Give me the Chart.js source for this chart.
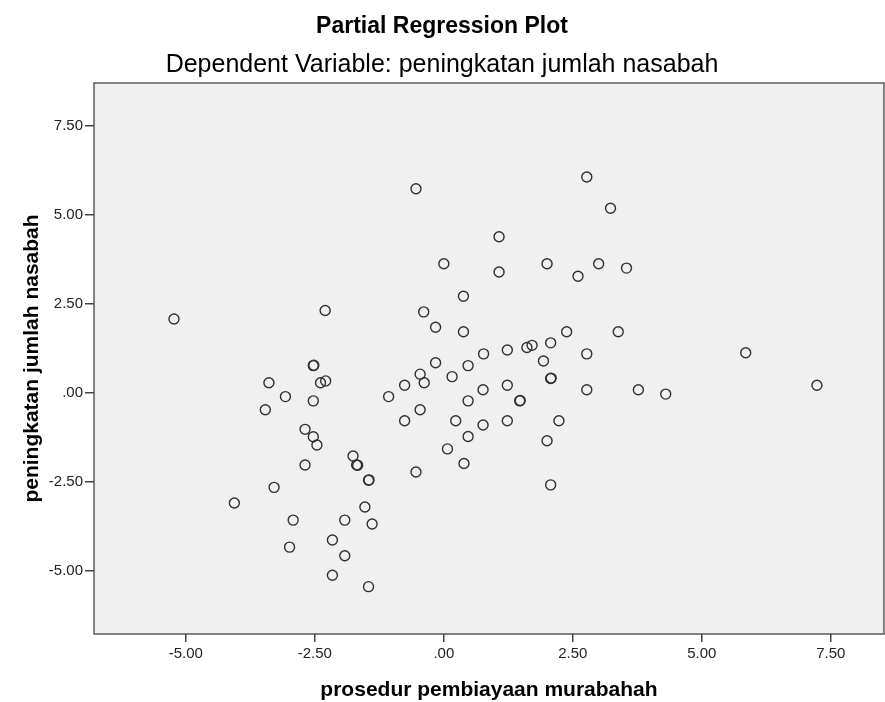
<!DOCTYPE html>
<html>
<head>
<meta charset="UTF-8">
<title>Partial Regression Plot</title>
<script src="https://cdn.jsdelivr.net/npm/chart.js@4.4.1/dist/chart.umd.min.js"></script>
<style>
  html, body { margin: 0; padding: 0; background: #fff; }
</style>
</head>
<body>
<canvas id="myChart" width="885" height="702"></canvas>
<script>
// residuals
var xValues = [-5.23, -2.30, -2.53, -2.52, -3.39, -2.39, -2.29, -3.07, -2.53, -3.46,
               -2.69, -2.53, -2.46, -1.76, -1.69, -1.67, -1.46, -1.45, -2.69, -3.29,
               -4.06, -2.92, -1.92, -1.53, -1.39, -2.16, -2.99, -1.92, -2.16, -1.46,
               -0.16, 0.47, 1.93, -0.46, -0.76, -0.38, 0.16, 2.07, 2.08, -1.07,
               0.76, 1.23, 2.77, 0.47, 1.47, 1.48, -0.46, -0.76, 0.23, 0.76,
               1.23, 2.23, 0.47, 0.07, 2.00, 0.39, -0.54, 2.07, 2.77, -0.54,
               3.23, 1.07, 0.00, 1.07, 2.00, 2.60, 3.00, 3.54, 0.38, -0.39,
               -0.16, 0.38, 2.38, 3.38, 0.77, 1.23, 1.61, 1.71, 2.07, 2.77,
               5.85, 3.77, 4.30, 7.23];
var yValues = [2.08, 2.32, 0.77, 0.78, 0.29, 0.29, 0.34, -0.10, -0.22, -0.47,
               -1.02, -1.23, -1.46, -1.77, -2.02, -2.03, -2.45, -2.44, -2.02, -2.65,
               -3.09, -3.57, -3.57, -3.20, -3.68, -4.13, -4.33, -4.57, -5.12, -5.44,
               0.85, 0.77, 0.90, 0.53, 0.22, 0.29, 0.46, 0.41, 0.42, -0.10,
               0.09, 0.22, 0.09, -0.22, -0.22, -0.21, -0.47, -0.78, -0.78, -0.90,
               -0.78, -0.78, -1.22, -1.57, -1.34, -1.98, -2.22, -2.58, 6.07, 5.74,
               5.19, 4.39, 3.63, 3.40, 3.63, 3.28, 3.63, 3.51, 2.72, 2.28,
               1.85, 1.72, 1.72, 1.72, 1.10, 1.21, 1.28, 1.34, 1.41, 1.10,
               1.13, 0.09, -0.03, 0.22];
var tickValues = [-5, -2.5, 0, 2.5, 5, 7.5];
var tickLabels = ['-5.00', '-2.50', '.00', '2.50', '5.00', '7.50'];

var xRange = [-6.78, 8.53];
var yRange = [-6.77, 8.71];

var mainFont = "'Liberation Sans', Arial, sans-serif";

var points = [];
for (var i = 0; i < xValues.length; i++) {
	points.push({x: xValues[i], y: yValues[i]});
}

// grey plot area with a dark frame, like SPSS
var plotFrame = {
	id: 'plotFrame',
	beforeDatasetsDraw: function(chart) {
		var a = chart.chartArea, ctx = chart.ctx;
		ctx.save();
		ctx.fillStyle = '#f0f0f0';
		ctx.fillRect(a.left, a.top, a.right - a.left, a.bottom - a.top);
		ctx.restore();
	},
	afterDraw: function(chart) {
		var a = chart.chartArea, ctx = chart.ctx;
		ctx.save();
		ctx.strokeStyle = '#444';
		ctx.lineWidth = 1.3;
		ctx.strokeRect(a.left, a.top, a.right - a.left, a.bottom - a.top);
		ctx.restore();
	}
};

function axisTicks(scale) {
	scale.ticks = tickValues.map(function(v) { return {value: v}; });
}

var ctx = document.getElementById('myChart').getContext('2d');
var myChart = new Chart(ctx, {
	type: 'scatter',
	data: {
		datasets: [{
			data: points,
			pointStyle: 'circle',
			pointRadius: 5,
			pointBorderWidth: 1.4,
			pointBorderColor: '#303030',
			pointBackgroundColor: 'rgba(0,0,0,0)'
		}]
	},
	options: {
		responsive: false,
		animation: false,
		layout: { autoPadding: false, padding: { left: 0, right: 1, top: 0, bottom: 0 } },
		plugins: {
			legend: { display: false },
			tooltip: { enabled: false },
			title: {
				display: true,
				text: 'Partial Regression Plot',
				color: '#000',
				font: { family: mainFont, size: 23, weight: 'bold', lineHeight: 1.2 },
				padding: { top: 13, bottom: 3 }
			},
			subtitle: {
				display: true,
				text: 'Dependent Variable: peningkatan jumlah nasabah',
				color: '#000',
				font: { family: mainFont, size: 25, weight: 'normal', lineHeight: 1.2 },
				padding: { top: 7, bottom: 2.4 }
			}
		},
		scales: {
			x: {
				type: 'linear',
				min: xRange[0],
				max: xRange[1],
				afterBuildTicks: axisTicks,
				afterFit: function(scale) {
					scale.height = 68;
					scale.paddingLeft = 0;
					scale.paddingRight = 0;
				},
				border: { display: false },
				grid: { drawOnChartArea: false, drawTicks: true, tickLength: 8, color: '#444', lineWidth: 1.5 },
				ticks: {
					autoSkip: false,
					maxRotation: 0,
					padding: 3,
					color: '#222',
					font: { family: mainFont, size: 15 },
					callback: function(v, i) { return tickLabels[i]; }
				},
				title: {
					display: true,
					text: 'prosedur pembiayaan murabahah',
					color: '#000',
					font: { family: mainFont, size: 21, weight: 'bold', lineHeight: 1 },
					padding: { top: 0, bottom: 1 }
				}
			},
			y: {
				type: 'linear',
				min: yRange[0],
				max: yRange[1],
				afterBuildTicks: axisTicks,
				afterFit: function(scale) {
					scale.width = 94;
					scale.paddingTop = 0;
					scale.paddingBottom = 0;
				},
				border: { display: false },
				grid: { drawOnChartArea: false, drawTicks: true, tickLength: 9, color: '#444', lineWidth: 1.5 },
				ticks: {
					autoSkip: false,
					padding: 2,
					color: '#222',
					font: { family: mainFont, size: 15 },
					callback: function(v, i) { return tickLabels[i]; }
				},
				title: {
					display: true,
					text: 'peningkatan jumlah nasabah',
					color: '#000',
					font: { family: mainFont, size: 21, weight: 'bold', lineHeight: 1 },
					padding: { top: 22, bottom: 0 }
				}
			}
		}
	},
	plugins: [plotFrame]
});
</script>
</body>
</html>
